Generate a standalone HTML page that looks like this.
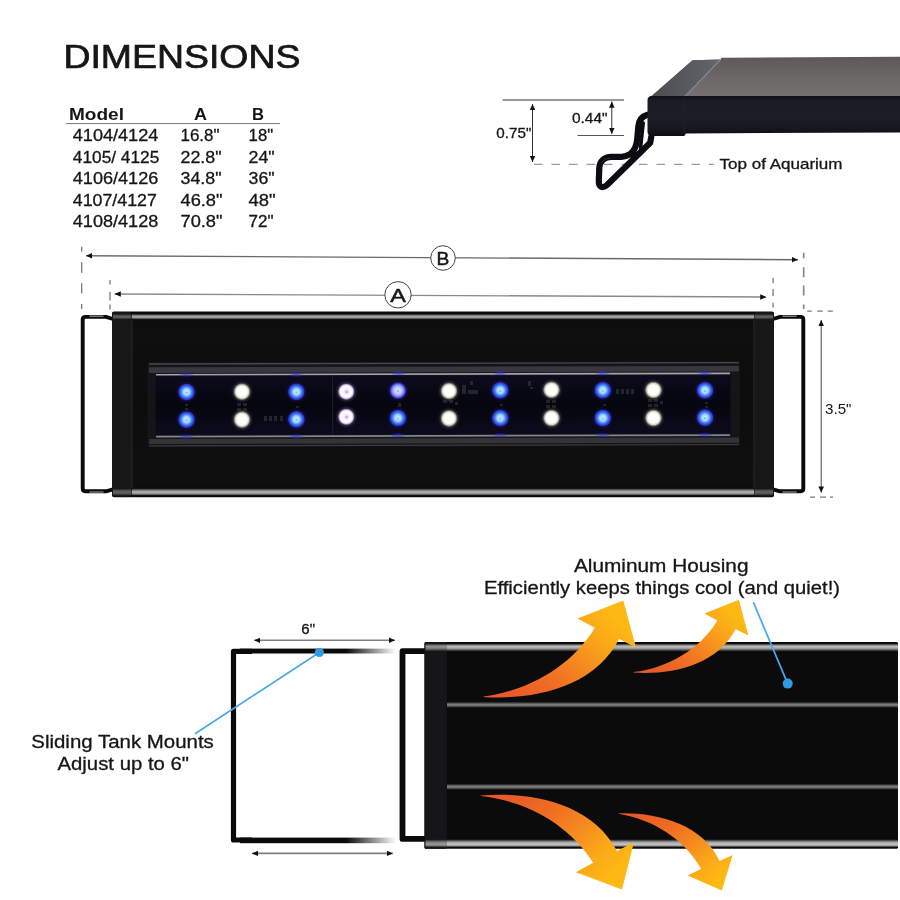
<!DOCTYPE html>
<html lang="en">
<head>
<meta charset="utf-8">
<title>Dimensions</title>
<style>
html,body{margin:0;padding:0;background:#fff;}
body{width:900px;height:900px;overflow:hidden;position:relative;font-family:"Liberation Sans",sans-serif;}
svg{position:absolute;left:0;top:0;display:block;filter:blur(0.5px);}
text{font-family:"Liberation Sans",sans-serif;fill:#161616;stroke:#161616;stroke-width:0.3px;}
.b{stroke-width:0;}
.t{stroke-width:0.7px;}
.l{stroke:none;}
.b{font-weight:bold;}
</style>
</head>
<body>
<svg width="900" height="900" viewBox="0 0 900 900">
<defs>
  <marker id="ah" viewBox="0 0 10 10" refX="10" refY="5" markerWidth="6.2" markerHeight="6.2" orient="auto-start-reverse" markerUnits="userSpaceOnUse"><path d="M0,0.5 L10,5 L0,9.5 Z" fill="#111"/></marker>
  <linearGradient id="gStrip" x1="0" y1="0" x2="0" y2="1">
    <stop offset="0" stop-color="#2a2a2a"/><stop offset="0.45" stop-color="#6a6a6a"/><stop offset="1" stop-color="#2a2a2a"/>
  </linearGradient>
  <radialGradient id="ledB"><stop offset="0" stop-color="#d8f0ff"/><stop offset="0.38" stop-color="#9fd4ff"/><stop offset="0.58" stop-color="#4a92ff"/><stop offset="0.78" stop-color="#2d4fea"/><stop offset="0.92" stop-color="#4130b8" stop-opacity="0.9"/><stop offset="1" stop-color="#1a1460" stop-opacity="0"/></radialGradient>
  <radialGradient id="ledC"><stop offset="0" stop-color="#e4e8ff"/><stop offset="0.45" stop-color="#b8c4ff"/><stop offset="0.7" stop-color="#7484f4"/><stop offset="0.9" stop-color="#4130c0" stop-opacity="0.9"/><stop offset="1" stop-color="#1a1460" stop-opacity="0"/></radialGradient>
  <radialGradient id="ledW"><stop offset="0" stop-color="#ffffff"/><stop offset="0.6" stop-color="#fcfdf6"/><stop offset="0.78" stop-color="#c8cbbd"/><stop offset="0.92" stop-color="#6a6d62" stop-opacity="0.85"/><stop offset="1" stop-color="#333" stop-opacity="0"/></radialGradient>
  <radialGradient id="ledP"><stop offset="0" stop-color="#ecd8ff"/><stop offset="0.3" stop-color="#f6ecff"/><stop offset="0.62" stop-color="#ffffff"/><stop offset="0.8" stop-color="#d8cce8"/><stop offset="0.93" stop-color="#6e6488" stop-opacity="0.8"/><stop offset="1" stop-color="#332a44" stop-opacity="0"/></radialGradient>
  <linearGradient id="gFade" x1="0" y1="0" x2="1" y2="0">
    <stop offset="0" stop-color="#0a0a0a"/><stop offset="0.68" stop-color="#0a0a0a"/><stop offset="1" stop-color="#0a0a0a" stop-opacity="0"/>
  </linearGradient>
  <linearGradient id="gA1" gradientUnits="userSpaceOnUse" x1="515" y1="700" x2="600" y2="602"><stop offset="0" stop-color="#e85a29"/><stop offset="0.3" stop-color="#f06e23"/><stop offset="0.55" stop-color="#f68a1f"/><stop offset="0.8" stop-color="#fbaa18"/><stop offset="1" stop-color="#fdb913"/></linearGradient>
  <linearGradient id="gA2" gradientUnits="userSpaceOnUse" x1="655" y1="675" x2="722" y2="601"><stop offset="0" stop-color="#e85a29"/><stop offset="0.3" stop-color="#f06e23"/><stop offset="0.55" stop-color="#f68a1f"/><stop offset="0.8" stop-color="#fbaa18"/><stop offset="1" stop-color="#fdb913"/></linearGradient>
  <linearGradient id="gA3" gradientUnits="userSpaceOnUse" x1="515" y1="793" x2="600" y2="888"><stop offset="0" stop-color="#e85a29"/><stop offset="0.3" stop-color="#f06e23"/><stop offset="0.55" stop-color="#f68a1f"/><stop offset="0.8" stop-color="#fbaa18"/><stop offset="1" stop-color="#fdb913"/></linearGradient>
  <linearGradient id="gA4" gradientUnits="userSpaceOnUse" x1="645" y1="811" x2="708" y2="889"><stop offset="0" stop-color="#e85a29"/><stop offset="0.3" stop-color="#f06e23"/><stop offset="0.55" stop-color="#f68a1f"/><stop offset="0.8" stop-color="#fbaa18"/><stop offset="1" stop-color="#fdb913"/></linearGradient>
</defs>

<!-- ===== TITLE + TABLE ===== -->
<g id="heading">
<text class="t" x="63.4" y="67.6" font-size="33" textLength="237" lengthAdjust="spacingAndGlyphs">DIMENSIONS</text>
</g>
<g id="table" font-size="16.5">
<text class="b" x="69" y="119.5" textLength="55" lengthAdjust="spacingAndGlyphs">Model</text>
<text class="b" x="194" y="119.5" textLength="13" lengthAdjust="spacingAndGlyphs">A</text>
<text class="b" x="252" y="119.5" textLength="12" lengthAdjust="spacingAndGlyphs">B</text>
<line x1="66" y1="123.6" x2="280" y2="123.6" stroke="#777" stroke-width="1"/>
<text x="72.8" y="141.4" textLength="85.5" lengthAdjust="spacingAndGlyphs">4104/4124</text>
<text x="180.5" y="141.4" textLength="39" lengthAdjust="spacingAndGlyphs">16.8"</text>
<text x="248.6" y="141.4" textLength="24.5" lengthAdjust="spacingAndGlyphs">18"</text>
<text x="72.8" y="163" textLength="86.5" lengthAdjust="spacingAndGlyphs">4105/ 4125</text>
<text x="180.5" y="163" textLength="41" lengthAdjust="spacingAndGlyphs">22.8"</text>
<text x="248.6" y="163" textLength="26" lengthAdjust="spacingAndGlyphs">24"</text>
<text x="72.8" y="184.4" textLength="85.5" lengthAdjust="spacingAndGlyphs">4106/4126</text>
<text x="180.5" y="184.4" textLength="41" lengthAdjust="spacingAndGlyphs">34.8"</text>
<text x="248.6" y="184.4" textLength="26" lengthAdjust="spacingAndGlyphs">36"</text>
<text x="72.8" y="205.5" textLength="84" lengthAdjust="spacingAndGlyphs">4107/4127</text>
<text x="180.5" y="205.5" textLength="42" lengthAdjust="spacingAndGlyphs">46.8"</text>
<text x="248.6" y="205.5" textLength="27" lengthAdjust="spacingAndGlyphs">48"</text>
<text x="72.8" y="227" textLength="85.5" lengthAdjust="spacingAndGlyphs">4108/4128</text>
<text x="180.5" y="227" textLength="42" lengthAdjust="spacingAndGlyphs">70.8"</text>
<text x="248.6" y="227" textLength="25" lengthAdjust="spacingAndGlyphs">72"</text>
</g>

<!-- ===== TOP RIGHT: side profile ===== -->
<g id="profile">
  <defs>
    <linearGradient id="gTopFace" x1="0" y1="0" x2="0" y2="1"><stop offset="0" stop-color="#5c5a59"/><stop offset="0.5" stop-color="#6a6766"/><stop offset="1" stop-color="#747170"/></linearGradient>
    <linearGradient id="gTopCap" x1="0" y1="0" x2="1" y2="0"><stop offset="0" stop-color="#4b4c52"/><stop offset="1" stop-color="#65666b"/></linearGradient>
    <linearGradient id="gFront" x1="0" y1="0" x2="0" y2="1"><stop offset="0" stop-color="#0f1016"/><stop offset="0.12" stop-color="#1a1c25"/><stop offset="0.5" stop-color="#1d1f28"/><stop offset="0.85" stop-color="#15161d"/><stop offset="1" stop-color="#0c0c11"/></linearGradient>
  </defs>
  <!-- dimension lines -->
  <line x1="502.5" y1="100" x2="624" y2="100" stroke="#777" stroke-width="1.4"/>
  <line x1="577.5" y1="135.5" x2="624" y2="135.5" stroke="#555" stroke-width="1"/>
  <line x1="534" y1="164.3" x2="714" y2="164.3" stroke="#9a9a9a" stroke-width="1.2" stroke-dasharray="8.5 9"/>
  <line x1="532.5" y1="104" x2="532.5" y2="162" stroke="#333" stroke-width="1" marker-start="url(#ah)" marker-end="url(#ah)"/>
  <line x1="611.8" y1="101.5" x2="611.8" y2="134" stroke="#333" stroke-width="1" marker-start="url(#ah)" marker-end="url(#ah)"/>
  <text x="572" y="123" font-size="14.5" textLength="35.5" lengthAdjust="spacingAndGlyphs">0.44"</text>
  <text x="496.3" y="138" font-size="14.5" textLength="35" lengthAdjust="spacingAndGlyphs">0.75"</text>
  <text x="719.5" y="168.6" font-size="15" textLength="123" lengthAdjust="spacingAndGlyphs">Top of Aquarium</text>
  <!-- wire bracket -->
  <path d="M647.5,114.8 C641.5,116.5 638.8,121 638.3,126.5 L637.3,138 C636.8,146 634.5,151 630,154.2 C627,156.2 624,156.8 621.5,156.8 L611.5,156.8 C604,157 599.6,161.5 599.3,168 L598.8,181 C598.6,187 602.5,189 607,185 L650.2,142.8 L651.3,136.5" fill="none" stroke="#0c0c10" stroke-width="6.2" stroke-linejoin="round" stroke-linecap="round"/>
  <path d="M643.2,123 L642,134 L640.5,148" fill="none" stroke="#0c0c10" stroke-width="3.6" stroke-linecap="round"/>
  <path d="M601,163 C603,160 606,158.4 610,158.2" fill="none" stroke="#45464e" stroke-width="1" stroke-linecap="round" opacity="0.6"/>
  <!-- top face -->
  <path d="M692.5,60.2 L721,59.4 L721.3,57.8 L900,56.8 L900,97 L650.5,97 Z" fill="url(#gTopFace)"/>
  <path d="M692.5,60.2 L721,59.4 L685,97 L650.5,97 Z" fill="url(#gTopCap)"/>
  <path d="M720.5,59.6 L685,96.4" stroke="#9496a0" stroke-width="1.3" fill="none" opacity="0.8"/>
  <!-- front face -->
  <path d="M651.5,96 L900,96 L900,132.6 L686,133.4 L684,136 L652,136 Q647.5,136 647.5,131.5 L647.5,100.5 Q647.5,96 651.5,96 Z" fill="url(#gFront)"/>
  <path d="M684.5,97 L684.5,135.5" stroke="#1f2029" stroke-width="1.2" fill="none"/>
</g>

<!-- ===== MIDDLE: front view ===== -->
<g id="front">
  <defs>
    <radialGradient id="haloB"><stop offset="0" stop-color="#2a2ad0" stop-opacity="0.9"/><stop offset="0.7" stop-color="#1c1ca0" stop-opacity="0.55"/><stop offset="1" stop-color="#0a0a40" stop-opacity="0"/></radialGradient>
    <radialGradient id="glowB"><stop offset="0" stop-color="#3a3aff" stop-opacity="0.75"/><stop offset="1" stop-color="#2020c0" stop-opacity="0"/></radialGradient>
    <radialGradient id="haloP"><stop offset="0" stop-color="#8878c8" stop-opacity="0.9"/><stop offset="0.75" stop-color="#5a4a90" stop-opacity="0.45"/><stop offset="1" stop-color="#222" stop-opacity="0"/></radialGradient>
    <radialGradient id="haloW"><stop offset="0" stop-color="#888" stop-opacity="0.9"/><stop offset="0.75" stop-color="#555a50" stop-opacity="0.5"/><stop offset="1" stop-color="#222" stop-opacity="0"/></radialGradient>
    <linearGradient id="gWinTop" x1="0" y1="0" x2="0" y2="1"><stop offset="0" stop-color="#1c1c1e"/><stop offset="0.25" stop-color="#3a3a3e"/><stop offset="0.6" stop-color="#2c2c30"/><stop offset="0.85" stop-color="#6a6a74"/><stop offset="1" stop-color="#24242c"/></linearGradient>
    <linearGradient id="gWinBot" x1="0" y1="0" x2="0" y2="1"><stop offset="0" stop-color="#24242c"/><stop offset="0.25" stop-color="#5a5a66"/><stop offset="0.6" stop-color="#333338"/><stop offset="1" stop-color="#1a1a1c"/></linearGradient>
    <linearGradient id="gInner" x1="0" y1="0" x2="0" y2="1"><stop offset="0" stop-color="#0b0b1c"/><stop offset="0.5" stop-color="#06060e"/><stop offset="1" stop-color="#0b0b1e"/></linearGradient>
  </defs>
  <!-- dimension guides -->
  <g stroke="#7a7a7a" stroke-width="1.3" fill="none">
    <path d="M81.7,246.7 V251.7 M81.7,262.2 V272.8 M81.7,283.3 V293.5 M81.7,304 V309"/>
    <path d="M110,280 V284.4 M110,291.7 V300.6 M110,304.4 V309.4"/>
    <path d="M773.1,277.8 V283.3 M773.1,288.9 V296.1 M773.1,302.8 V307.4"/>
    <path d="M803.7,252.8 V258.3 M803.7,267.2 V277.2 M803.7,285.6 V295.6 M803.7,304.4 V309" stroke-width="1.7" stroke="#8a8a8a"/>
    <path d="M807.2,311.1 H811.7 M817.2,311.1 H822.8 M827.8,311.1 H832.8"/>
    <path d="M810,497.2 H815 M820,497.2 H826 M830,497.2 H833"/>
  </g>
  <line x1="86" y1="255.7" x2="798" y2="259.7" stroke="#6a6a6a" stroke-width="1.4" marker-start="url(#ah)" marker-end="url(#ah)"/>
  <line x1="114.6" y1="294" x2="766.4" y2="297" stroke="#8a8a8a" stroke-width="1.4" marker-start="url(#ah)" marker-end="url(#ah)"/>
  <line x1="821.2" y1="320" x2="821.2" y2="492.6" stroke="#555" stroke-width="1.1" marker-start="url(#ah)" marker-end="url(#ah)"/>
  <circle cx="443" cy="258" r="12.3" fill="#fff" stroke="#444" stroke-width="1"/>
  <circle cx="398" cy="294.8" r="13.2" fill="#fff" stroke="#444" stroke-width="1"/>
  <text x="436.6" y="264.6" font-size="18.5" textLength="12.8" lengthAdjust="spacingAndGlyphs" style="stroke-width:0.5px">B</text>
  <text x="390.2" y="301.6" font-size="19" textLength="15.6" lengthAdjust="spacingAndGlyphs" style="stroke-width:0.5px">A</text>
  <text class="l" x="825" y="414.3" font-size="15" fill="#555" textLength="26.5" lengthAdjust="spacingAndGlyphs">3.5"</text>
  <!-- wire brackets -->
  <path d="M113,319 L106,316.9 L85.4,316.9 Q82.7,316.9 82.7,319.6 L82.7,488.6 Q82.7,491.3 85.4,491.3 L106,491.3 L113,489.4" fill="none" stroke="#0a0a0a" stroke-width="3.9" stroke-linejoin="round"/>
  <path d="M773,319 L780,316.9 L800.6,316.9 Q803.3,316.9 803.3,319.6 L803.3,488.6 Q803.3,491.3 800.6,491.3 L780,491.3 L773,489.4" fill="none" stroke="#0a0a0a" stroke-width="3.9" stroke-linejoin="round"/>
  <g stroke="#7a7a7a" stroke-width="1.5" fill="none" stroke-linecap="round"><path d="M90,316.3 L103,316.3"/><path d="M90,492 L103,492"/><path d="M783,316.3 L796,316.3"/><path d="M783,492 L796,492"/></g>
  <!-- body -->
  <rect x="112" y="311.6" width="662" height="185.6" rx="2" fill="url(#gBody)"/>
  <rect x="112" y="312" width="19.5" height="184.4" rx="2" fill="#171718"/>
  <rect x="754.3" y="312" width="19.7" height="184.4" rx="2" fill="#171718"/>
  <rect x="131" y="320" width="1.6" height="168" fill="#222224"/>
  <rect x="753.2" y="320" width="1.6" height="168" fill="#222224"/>
  <rect x="132" y="314.2" width="622" height="5.4" fill="url(#gStripM)"/>
  <rect x="132" y="488.4" width="622" height="6.7" fill="url(#gStripMb)"/>
  <rect x="113" y="314.2" width="18.5" height="5.4" fill="url(#gStripM)" opacity="0.5"/>
  <rect x="113" y="488.4" width="18.5" height="6.7" fill="url(#gStripMb)" opacity="0.5"/>
  <rect x="754.5" y="314.2" width="18.5" height="5.4" fill="url(#gStripM)" opacity="0.5"/>
  <rect x="754.5" y="488.4" width="18.5" height="6.7" fill="url(#gStripMb)" opacity="0.5"/>
  <defs>
    <linearGradient id="gStripM" x1="0" y1="0" x2="0" y2="1"><stop offset="0" stop-color="#3a3838"/><stop offset="0.4" stop-color="#aaa8a8"/><stop offset="0.6" stop-color="#a09e9e"/><stop offset="1" stop-color="#161616"/></linearGradient>
    <linearGradient id="gStripMb" x1="0" y1="0" x2="0" y2="1"><stop offset="0" stop-color="#161616"/><stop offset="0.4" stop-color="#a09e9e"/><stop offset="0.65" stop-color="#b0aeae"/><stop offset="1" stop-color="#4a4848"/></linearGradient>
    <linearGradient id="gBody" x1="0" y1="0" x2="0" y2="1"><stop offset="0" stop-color="#0a0a0a"/><stop offset="0.12" stop-color="#0f0f0f"/><stop offset="0.5" stop-color="#0c0c0c"/><stop offset="0.9" stop-color="#101010"/><stop offset="1" stop-color="#0a0a0a"/></linearGradient>
  </defs>
  <!-- LED window -->
  <g transform="rotate(-0.14 443 404)">
  <rect x="147.5" y="361.6" width="592.5" height="85" rx="2.5" fill="#151517"/>
  <rect x="149" y="362.6" width="590" height="1.4" fill="#48484b"/>
  <rect x="149" y="366.6" width="590" height="5.6" fill="#37373d"/>
  <rect x="156" y="373.2" width="574" height="1.7" fill="#a4a4ac"/>
  <rect x="155.5" y="375.6" width="575" height="58.6" fill="url(#gInner)"/>
  <rect x="156" y="435" width="574" height="1.7" fill="#84848c"/>
  <rect x="149" y="438.2" width="590" height="5.2" fill="#333338"/>
  <rect x="149" y="444.6" width="590" height="1.2" fill="#3a3a3c"/>
  <rect x="332" y="376.2" width="1.2" height="58.2" fill="#1d1d28"/>
  </g>
  <g id="leds">
<g fill="#8a8a80" opacity="0.22"><rect x="237" y="403" width="4" height="3"/><rect x="243" y="403" width="4" height="3"/><rect x="237" y="408" width="4" height="3"/><rect x="243" y="408" width="4" height="3"/><rect x="264" y="416" width="3" height="5"/><rect x="269" y="416" width="3" height="5"/><rect x="274" y="416" width="3" height="5"/><rect x="280" y="416" width="3" height="5"/><rect x="443" y="400" width="4" height="3"/><rect x="449" y="400" width="4" height="3"/><rect x="455" y="402" width="3" height="3"/><rect x="462" y="385" width="4" height="6"/><rect x="468" y="390" width="10" height="4"/><rect x="462" y="390" width="4" height="4"/><rect x="470" y="381" width="3" height="4"/><rect x="546" y="400" width="4" height="3"/><rect x="552" y="400" width="4" height="3"/><rect x="546" y="405" width="4" height="3"/><rect x="552" y="405" width="4" height="3"/><rect x="528" y="381" width="3" height="5"/><rect x="530" y="387" width="3" height="2"/><rect x="616" y="389" width="3" height="5"/><rect x="621" y="389" width="3" height="5"/><rect x="626" y="389" width="3" height="5"/><rect x="631" y="389" width="3" height="5"/><rect x="648" y="399" width="4" height="3"/><rect x="654" y="399" width="4" height="3"/><rect x="648" y="404" width="4" height="3"/><rect x="654" y="404" width="4" height="3"/><rect x="660" y="401" width="3" height="3"/><rect x="185" y="404" width="3" height="2"/><rect x="185" y="408" width="3" height="2"/><rect x="296" y="406" width="3" height="2"/><rect x="398" y="403" width="3" height="4"/><rect x="500" y="404" width="3" height="2"/><rect x="603" y="404" width="3" height="2"/><rect x="705" y="402" width="3" height="2"/><rect x="705" y="406" width="3" height="2"/></g>
<circle cx="186.5" cy="392" r="11.5" fill="url(#haloB)"/><circle cx="186.5" cy="392" r="8.6" fill="url(#ledB)"/><circle cx="186.5" cy="392.6" r="1.1" fill="#2a4cf0" opacity="0.35"/><circle cx="186.5" cy="419.6" r="11.5" fill="url(#haloB)"/><circle cx="186.5" cy="419.6" r="8.6" fill="url(#ledB)"/><circle cx="186.5" cy="420.20000000000005" r="1.1" fill="#2a4cf0" opacity="0.35"/><ellipse cx="186.5" cy="374.8" rx="8" ry="2.8" fill="url(#glowB)"/><ellipse cx="186.5" cy="436.8" rx="8" ry="2.8" fill="url(#glowB)"/>
<circle cx="242" cy="391.7" r="11.5" fill="url(#haloW)"/><circle cx="242" cy="391.7" r="8.8" fill="url(#ledW)"/><circle cx="242" cy="419.6" r="11.5" fill="url(#haloW)"/><circle cx="242" cy="419.6" r="8.8" fill="url(#ledW)"/>
<circle cx="296.4" cy="391.8" r="11.5" fill="url(#haloB)"/><circle cx="296.4" cy="391.8" r="8.6" fill="url(#ledB)"/><circle cx="296.4" cy="392.40000000000003" r="1.1" fill="#2a4cf0" opacity="0.35"/><circle cx="296.4" cy="419.3" r="11.5" fill="url(#haloB)"/><circle cx="296.4" cy="419.3" r="8.6" fill="url(#ledB)"/><circle cx="296.4" cy="419.90000000000003" r="1.1" fill="#2a4cf0" opacity="0.35"/><ellipse cx="296.4" cy="374.6" rx="8" ry="2.8" fill="url(#glowB)"/><ellipse cx="296.4" cy="436.5" rx="8" ry="2.8" fill="url(#glowB)"/>
<circle cx="346.3" cy="391.6" r="11.5" fill="url(#haloP)"/><circle cx="346.3" cy="391.6" r="8.6" fill="url(#ledP)"/><circle cx="346.7" cy="391.90000000000003" r="1.6" fill="#b070e0" opacity="0.45"/><circle cx="346.3" cy="416.8" r="11.5" fill="url(#haloP)"/><circle cx="346.3" cy="416.8" r="8.6" fill="url(#ledP)"/><circle cx="346.7" cy="417.1" r="1.6" fill="#b070e0" opacity="0.45"/>
<circle cx="397.9" cy="390.6" r="11.5" fill="url(#haloB)"/><circle cx="397.9" cy="390.6" r="8.6" fill="url(#ledC)"/><circle cx="397.9" cy="391.20000000000005" r="1.1" fill="#2a4cf0" opacity="0.35"/><circle cx="397.9" cy="418" r="11.5" fill="url(#haloB)"/><circle cx="397.9" cy="418" r="8.6" fill="url(#ledB)"/><circle cx="397.9" cy="418.6" r="1.1" fill="#2a4cf0" opacity="0.35"/><ellipse cx="397.9" cy="373.40000000000003" rx="8" ry="2.8" fill="url(#glowB)"/><ellipse cx="397.9" cy="435.2" rx="8" ry="2.8" fill="url(#glowB)"/>
<circle cx="449" cy="391" r="11.5" fill="url(#haloW)"/><circle cx="449" cy="391" r="8.8" fill="url(#ledW)"/><circle cx="449" cy="418.4" r="11.5" fill="url(#haloW)"/><circle cx="449" cy="418.4" r="8.8" fill="url(#ledW)"/>
<circle cx="500.3" cy="390.3" r="11.5" fill="url(#haloB)"/><circle cx="500.3" cy="390.3" r="8.6" fill="url(#ledB)"/><circle cx="500.3" cy="390.90000000000003" r="1.1" fill="#2a4cf0" opacity="0.35"/><circle cx="500.3" cy="418" r="11.5" fill="url(#haloB)"/><circle cx="500.3" cy="418" r="8.6" fill="url(#ledB)"/><circle cx="500.3" cy="418.6" r="1.1" fill="#2a4cf0" opacity="0.35"/><ellipse cx="500.3" cy="373.1" rx="8" ry="2.8" fill="url(#glowB)"/><ellipse cx="500.3" cy="435.2" rx="8" ry="2.8" fill="url(#glowB)"/>
<circle cx="551.5" cy="389.8" r="11.5" fill="url(#haloW)"/><circle cx="551.5" cy="389.8" r="8.8" fill="url(#ledW)"/><circle cx="551.5" cy="418" r="11.5" fill="url(#haloW)"/><circle cx="551.5" cy="418" r="8.8" fill="url(#ledW)"/>
<circle cx="602.8" cy="390.2" r="11.5" fill="url(#haloB)"/><circle cx="602.8" cy="390.2" r="8.6" fill="url(#ledB)"/><circle cx="602.8" cy="390.8" r="1.1" fill="#2a4cf0" opacity="0.35"/><circle cx="602.8" cy="418" r="11.5" fill="url(#haloB)"/><circle cx="602.8" cy="418" r="8.6" fill="url(#ledB)"/><circle cx="602.8" cy="418.6" r="1.1" fill="#2a4cf0" opacity="0.35"/><ellipse cx="602.8" cy="373.0" rx="8" ry="2.8" fill="url(#glowB)"/><ellipse cx="602.8" cy="435.2" rx="8" ry="2.8" fill="url(#glowB)"/>
<circle cx="653.5" cy="390" r="11.5" fill="url(#haloW)"/><circle cx="653.5" cy="390" r="8.8" fill="url(#ledW)"/><circle cx="653.5" cy="418" r="11.5" fill="url(#haloW)"/><circle cx="653.5" cy="418" r="8.8" fill="url(#ledW)"/>
<circle cx="705" cy="390.3" r="11.5" fill="url(#haloB)"/><circle cx="705" cy="390.3" r="8.6" fill="url(#ledB)"/><circle cx="705" cy="390.90000000000003" r="1.1" fill="#2a4cf0" opacity="0.35"/><circle cx="705" cy="417.6" r="11.5" fill="url(#haloB)"/><circle cx="705" cy="417.6" r="8.6" fill="url(#ledB)"/><circle cx="705" cy="418.20000000000005" r="1.1" fill="#2a4cf0" opacity="0.35"/><ellipse cx="705" cy="373.1" rx="8" ry="2.8" fill="url(#glowB)"/><ellipse cx="705" cy="434.8" rx="8" ry="2.8" fill="url(#glowB)"/>
</g>
</g>

<!-- ===== BOTTOM: mounts + housing ===== -->
<g id="bottom">
  <!-- sliding bracket -->
  <rect x="240" y="648.6" width="156" height="4.9" fill="url(#gFade)"/>
  <rect x="240" y="837.6" width="156" height="5.6" fill="url(#gFade)"/>
  <path d="M252,651.3 L233.5,651.3 L233.5,840 L252,840" fill="none" stroke="#0a0a0a" stroke-width="5.2" stroke-linejoin="round"/>
  <line x1="254.2" y1="640.3" x2="395" y2="640.3" stroke="#808080" stroke-width="1.6" marker-start="url(#ah)" marker-end="url(#ah)"/>
  <line x1="252" y1="853.4" x2="392.8" y2="853.4" stroke="#808080" stroke-width="1.6" marker-start="url(#ah)" marker-end="url(#ah)"/>
  <text x="301.3" y="634.3" font-size="14" textLength="13.7" lengthAdjust="spacingAndGlyphs">6"</text>
  <!-- bracket attached to housing -->
  <path d="M426,651.1 L402.5,651.1 L402.5,838.9 L426,838.9" fill="none" stroke="#0a0a0a" stroke-width="5.8" stroke-linejoin="round"/>
  <!-- housing -->
  <rect x="424.5" y="642" width="473.5" height="206.8" rx="1.5" fill="#0b0b0b"/>
  <rect x="424.5" y="642" width="22.3" height="206.8" rx="1.5" fill="#161618"/>
  <rect x="447" y="644.2" width="451" height="7.2" fill="url(#gStrip2)"/>
  <rect x="447" y="702.2" width="451" height="5.2" fill="url(#gStrip3)"/>
  <rect x="447" y="784.2" width="451" height="5.2" fill="url(#gStrip3)"/>
  <rect x="447" y="839.3" width="451" height="7.4" fill="url(#gStrip2b)"/>
  <rect x="425.5" y="644.2" width="21.5" height="7.2" fill="url(#gStrip2)" opacity="0.75"/>
  <rect x="425.5" y="839.3" width="21.5" height="7.4" fill="url(#gStrip2b)" opacity="0.75"/>
  <defs>
    <linearGradient id="gStrip2" x1="0" y1="0" x2="0" y2="1"><stop offset="0" stop-color="#5a5a5a"/><stop offset="0.3" stop-color="#bababa"/><stop offset="0.55" stop-color="#a8a8a8"/><stop offset="1" stop-color="#141414"/></linearGradient>
    <linearGradient id="gStrip2b" x1="0" y1="0" x2="0" y2="1"><stop offset="0" stop-color="#141414"/><stop offset="0.4" stop-color="#a6a6a6"/><stop offset="0.72" stop-color="#c4c4c4"/><stop offset="1" stop-color="#6a6a6a"/></linearGradient>
    <linearGradient id="gStrip3" x1="0" y1="0" x2="0" y2="1"><stop offset="0" stop-color="#2c2c2c"/><stop offset="0.5" stop-color="#878787"/><stop offset="1" stop-color="#2a2a2a"/></linearGradient>
  </defs>
  <!-- callouts -->
  <line x1="319.3" y1="652.5" x2="195" y2="733.8" stroke="#4aa9e4" stroke-width="1.7"/>
  <circle cx="319.3" cy="652.5" r="4.6" fill="#2f9be2"/>
  <line x1="753.3" y1="602.2" x2="787.7" y2="683.6" stroke="#4aa9e4" stroke-width="1.7"/>
  <circle cx="787.7" cy="683.6" r="5" fill="#2f9be2"/>
  <text x="31.3" y="748.2" font-size="18" textLength="182.5" lengthAdjust="spacingAndGlyphs">Sliding Tank Mounts</text>
  <text x="57.5" y="770.2" font-size="18" textLength="131.5" lengthAdjust="spacingAndGlyphs">Adjust up to 6"</text>
  <text x="574" y="572" font-size="18" textLength="174.5" lengthAdjust="spacingAndGlyphs">Aluminum Housing</text>
  <text x="484" y="593.8" font-size="18" textLength="356" lengthAdjust="spacingAndGlyphs">Efficiently keeps things cool (and quiet!)</text>
  <!-- heat arrows -->
  <path d="M483.5,696.5 C527.9,690.9 571.5,666.7 594.8,627.8 L577.5,618.5 L623.3,600.4 L636.0,647.6 L619.0,639.0 C594.9,687.4 533.1,700.4 483.5,696.9 Z" fill="url(#gA1)"/>
  <path d="M633.5,672.1 C666.9,668.0 699.8,649.8 717.4,620.4 L704.4,613.4 L738.9,599.8 L748.4,635.4 L735.6,628.9 C717.5,665.3 670.9,675.1 633.5,672.5 Z" fill="url(#gA2)"/>
  <path d="M480.7,796.0 C525.1,800.8 569.1,824.2 593.1,862.7 L575.9,872.3 L622.0,889.6 L633.9,842.2 L617.0,851.1 C592.2,803.2 530.2,791.2 480.7,795.6 Z" fill="url(#gA3)"/>
  <path d="M618.5,813.8 C652.0,819.2 684.4,838.8 701.0,868.9 L687.6,875.5 L721.8,890.5 L732.7,855.1 L719.6,861.1 C702.7,823.8 656.2,812.2 618.5,813.4 Z" fill="url(#gA4)"/>
</g>

</svg>
</body>
</html>
